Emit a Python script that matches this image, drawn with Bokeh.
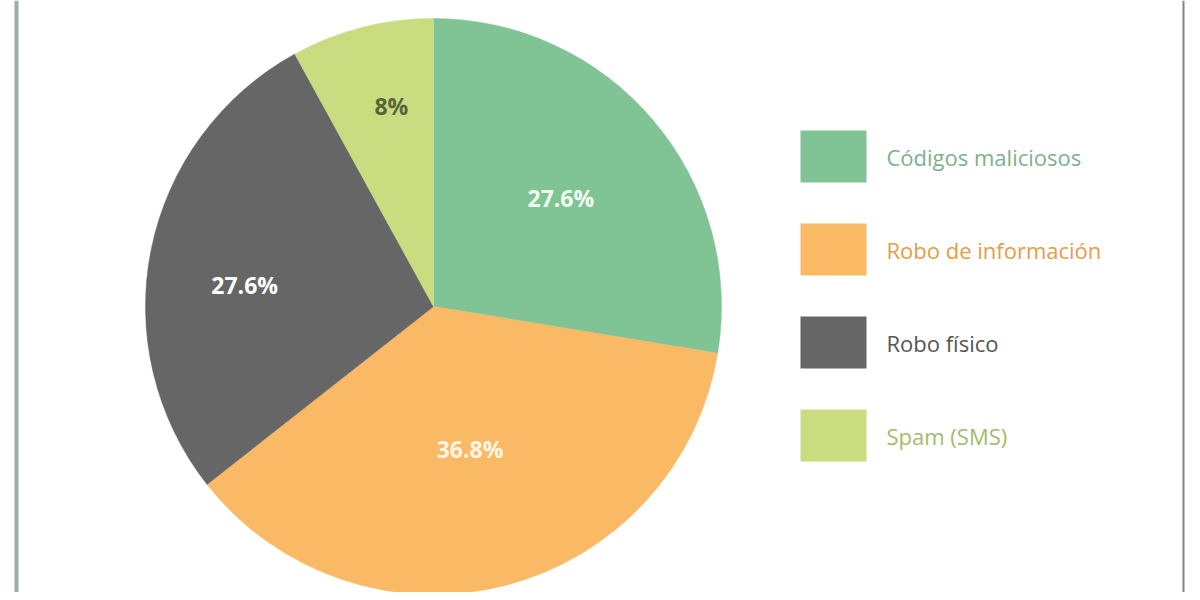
import math
from bokeh.plotting import figure
from bokeh.models import ColumnDataSource, Range1d
from bokeh.core.properties import value
from bokeh.embed import file_html
from bokeh.resources import INLINE

# ---- data ----
categories = ["Códigos maliciosos", "Robo de información", "Robo físico", "Spam (SMS)"]
shares = [27.6, 36.8, 27.6, 8.0]
pct_labels = ["27.6%", "36.8%", "27.6%", "8%"]

# ---- styles ----
slice_colors = ["#80c395", "#fab964", "#666666", "#c9dc7f"]
legend_text_colors = ["#7db08f", "#e89c45", "#555555", "#a5ba6c"]
pct_text_colors = ["#f2fdf2", "#fff6ea", "#ffffff", "#56653a"]
label_r_frac = [0.58, 0.51, 0.66, 0.71]
label_angle_shift_deg = [0, 0, 5, -2.5]

W, H = 1192, 592
cx, cy, R = 433, H - 306, 288

p = figure(width=W, height=H, output_backend="svg", toolbar_location=None,
           x_range=Range1d(0, W), y_range=Range1d(0, H), min_border=0)
p.axis.visible = False
p.grid.visible = False
p.outline_line_color = None
p.background_fill_color = "white"
p.border_fill_color = "white"

total = sum(shares)
starts, ends, lx, ly = [], [], [], []
cum = 0.0
for i, s in enumerate(shares):
    a0 = math.pi / 2 - 2 * math.pi * cum / total
    cum += s
    a1 = math.pi / 2 - 2 * math.pi * cum / total
    starts.append(a0)
    ends.append(a1)
    mid = (a0 + a1) / 2 + math.radians(label_angle_shift_deg[i])
    lx.append(cx + R * label_r_frac[i] * math.cos(mid))
    ly.append(cy + R * label_r_frac[i] * math.sin(mid))

src = ColumnDataSource(dict(start=starts, end=ends, color=slice_colors,
                            lx=lx, ly=ly, txt=pct_labels, tc=pct_text_colors))
p.wedge(x=cx, y=cy, radius=R, start_angle="start", end_angle="end",
        direction="clock", fill_color="color", line_color="color", line_width=0.5,
        source=src)
p.text(x="lx", y="ly", text="txt", text_color="tc", source=src,
       text_font=value("Open Sans"), text_font_style="bold", text_font_size="23px",
       text_align="center", text_baseline="middle")

# legend (custom, colored labels)
leg_y0, leg_step = H - 156, 93
leg_ys = [leg_y0 - i * leg_step for i in range(len(categories))]
lsrc = ColumnDataSource(dict(y=leg_ys, color=slice_colors, txt=categories,
                             tc=legend_text_colors))
p.rect(x=833, y="y", width=66, height=52, fill_color="color", line_color=None,
       source=lsrc)
p.text(x=886, y="y", text="txt", text_color="tc", source=lsrc,
       text_font=value("Open Sans"), text_font_size="22px",
       text_align="left", text_baseline="middle")

# frame lines
p.segment(x0=[16], y0=[0], x1=[16], y1=[H], line_color="#9aacac", line_width=4)
p.segment(x0=[1183], y0=[0], x1=[1183], y1=[H], line_color="#7f8585", line_width=2)

open("out.html", "w").write(file_html(p, INLINE))
